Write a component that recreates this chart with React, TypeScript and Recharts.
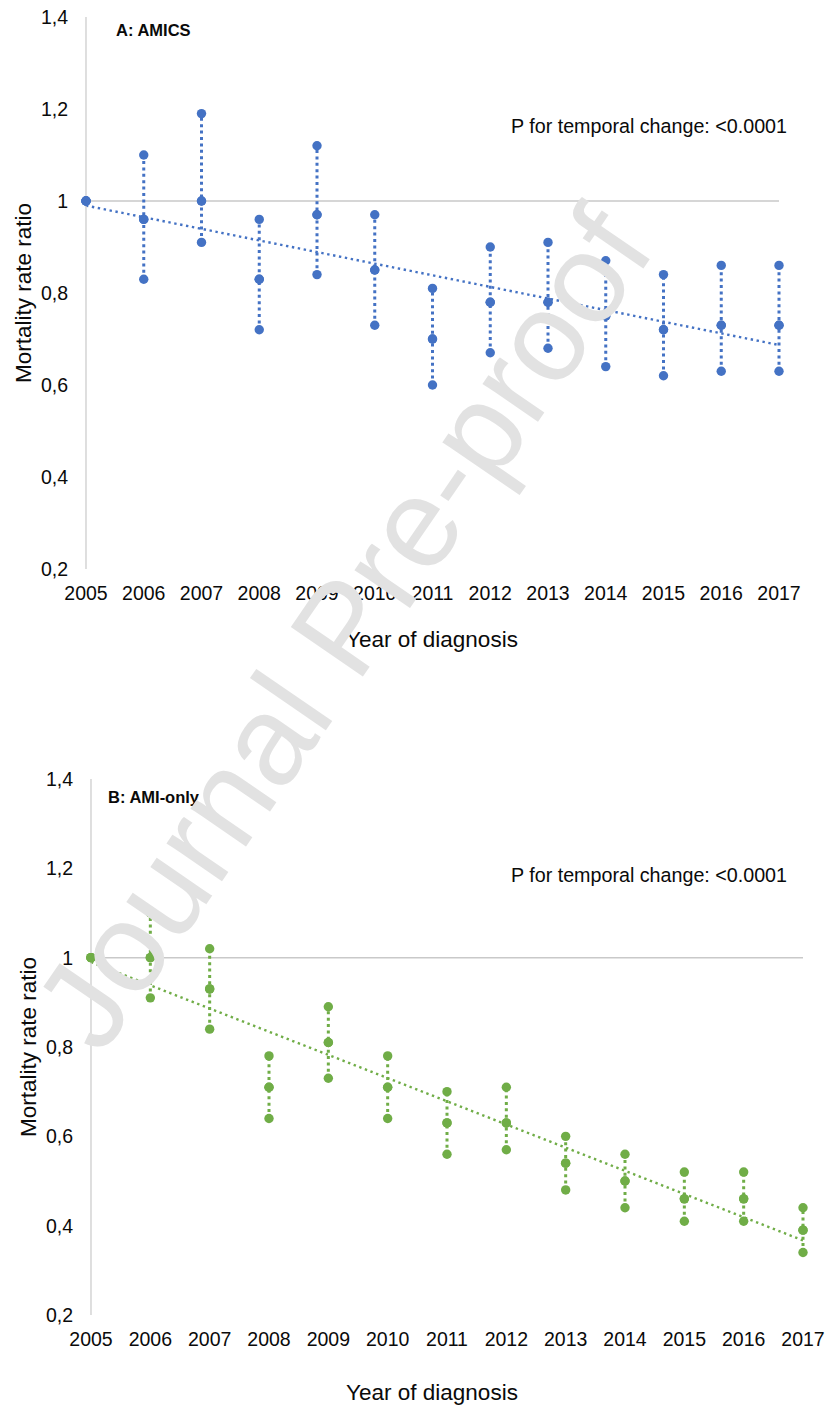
import React from 'react';
import {
  ComposedChart,
  Scatter,
  Line,
  XAxis,
  YAxis,
  ReferenceLine,
  ErrorBar,
} from 'recharts';

// ---------- data ----------
const years = [2005, 2006, 2007, 2008, 2009, 2010, 2011, 2012, 2013, 2014, 2015, 2016, 2017];

const amicsRR = [1.0, 0.96, 1.0, 0.83, 0.97, 0.85, 0.7, 0.78, 0.78, 0.75, 0.72, 0.73, 0.73];
const amicsLow = [1.0, 0.83, 0.91, 0.72, 0.84, 0.73, 0.6, 0.67, 0.68, 0.64, 0.62, 0.63, 0.63];
const amicsHigh = [1.0, 1.1, 1.19, 0.96, 1.12, 0.97, 0.81, 0.9, 0.91, 0.87, 0.84, 0.86, 0.86];
const amicsTrend = [0.99, 0.687]; // trend line value at first and last year

const amiRR = [1.0, 1.0, 0.93, 0.71, 0.81, 0.71, 0.63, 0.63, 0.54, 0.5, 0.46, 0.46, 0.39];
const amiLow = [1.0, 0.91, 0.84, 0.64, 0.73, 0.64, 0.56, 0.57, 0.48, 0.44, 0.41, 0.41, 0.34];
const amiHigh = [1.0, 1.1, 1.02, 0.78, 0.89, 0.78, 0.7, 0.71, 0.6, 0.56, 0.52, 0.52, 0.44];
const amiTrend = [0.99, 0.367];

const yTicks = [0.2, 0.4, 0.6, 0.8, 1, 1.2, 1.4];

const panelATitle = 'A: AMICS';
const panelBTitle = 'B: AMI-only';
const pText = 'P for temporal change: <0.0001';
const xTitle = 'Year of diagnosis';
const yTitle = 'Mortality rate ratio';
const watermark = 'Journal Pre-proof';

// ---------- styles ----------
const FONT = '"Liberation Sans", Arial, Helvetica, sans-serif';
const BLUE = '#4472C4';
const GREEN = '#70AD47';
const GRAY = '#c9c9c9';
const TEXT = '#0a0a0a';

const buildRows = (rr: number[], low: number[], high: number[], trend: number[]) =>
  years.map((year, i) => ({
    year,
    mid: rr[i],
    low: low[i],
    high: high[i],
    err: [rr[i] - low[i], high[i] - rr[i]],
    trend: i === 0 ? trend[0] : i === years.length - 1 ? trend[1] : null,
  }));

const fmtY = (v: number) => (v === 1 ? '1' : v.toFixed(1).replace('.', ','));

type PanelProps = {
  rows: any[];
  color: string;
  width: number;
  height: number;
  margin: { top: number; right: number; bottom: number; left: number };
  yAxisWidth: number;
  xTitleX: number;
  xTitleDy: number;
  yTitleX: number;
};

const dotShape = (color: string) => (p: any) =>
  p.cx == null || p.cy == null ? <g /> : <circle cx={p.cx} cy={p.cy} r={4.7} fill={color} />;

function Panel({ rows, color, width, height, margin, yAxisWidth, xTitleX, xTitleDy, yTitleX }: PanelProps) {
  return (
    <ComposedChart width={width} height={height} data={rows} margin={margin}>
      <XAxis
        dataKey="year"
        type="number"
        domain={[2005, 2017]}
        ticks={years}
        interval={0}
        allowDecimals={false}
        axisLine={false}
        tickLine={false}
        tickSize={0}
        tickMargin={17}
        height={30}
        tick={{ fill: TEXT, fontSize: 19.5, fontFamily: FONT }}
        label={{
          value: xTitle,
          content: (props: any) => {
            const vb = props.viewBox || { y: 0 };
            return (
              <text
                x={xTitleX}
                y={vb.y + xTitleDy}
                textAnchor="middle"
                fontSize={22.5}
                fontFamily={FONT}
                fill={TEXT}
              >
                {xTitle}
              </text>
            );
          },
        }}
      />
      <YAxis
        type="number"
        domain={[0.2, 1.4]}
        ticks={yTicks}
        interval={0}
        width={yAxisWidth}
        axisLine={{ stroke: GRAY, strokeWidth: 1.2 }}
        tickLine={false}
        tickSize={0}
        tickMargin={18}
        tickFormatter={fmtY}
        tick={{ fill: TEXT, fontSize: 19.5, fontFamily: FONT }}
        label={{
          value: yTitle,
          content: (props: any) => {
            const vb = props.viewBox || { y: 0, height: 0 };
            const cy = vb.y + vb.height / 2;
            return (
              <text
                x={yTitleX}
                y={cy}
                transform={`rotate(-90 ${yTitleX} ${cy})`}
                textAnchor="middle"
                fontSize={22.5}
                fontFamily={FONT}
                fill={TEXT}
              >
                {yTitle}
              </text>
            );
          },
        }}
      />
      <ReferenceLine y={1} stroke={GRAY} strokeWidth={1.5} ifOverflow="extendDomain" />
      <Line
        dataKey="trend"
        type="linear"
        stroke={color}
        strokeWidth={2.4}
        strokeDasharray="2.4 3.6"
        dot={false}
        activeDot={false}
        connectNulls
        isAnimationActive={false}
        legendType="none"
      />
      <Scatter dataKey="mid" shape={dotShape(color)} isAnimationActive={false}>
        <ErrorBar
          dataKey="err"
          direction="y"
          width={0}
          stroke={color}
          strokeWidth={3}
          strokeDasharray="3 3.4"
          isAnimationActive={false}
        />
      </Scatter>
      <Scatter dataKey="low" shape={dotShape(color)} isAnimationActive={false} />
      <Scatter dataKey="high" shape={dotShape(color)} isAnimationActive={false} />
      <Scatter dataKey="mid" shape={dotShape(color)} isAnimationActive={false} />
    </ComposedChart>
  );
}

export default function App() {
  const rowsA = buildRows(amicsRR, amicsLow, amicsHigh, amicsTrend);
  const rowsB = buildRows(amiRR, amiLow, amiHigh, amiTrend);
  return (
    <div
      style={{
        position: 'absolute',
        left: 0,
        top: 0,
        width: 827,
        height: 1410,
        background: '#fff',
        overflow: 'hidden',
        fontFamily: FONT,
      }}
    >
      <div style={{ position: 'absolute', left: 0, top: 0 }}>
        <Panel
          rows={rowsA}
          color={BLUE}
          width={827}
          height={700}
          margin={{ top: 17, right: 48, bottom: 101, left: 0 }}
          yAxisWidth={86}
          xTitleX={432}
          xTitleDy={78}
          yTitleX={31}
        />
      </div>
      <div style={{ position: 'absolute', left: 0, top: 762 }}>
        <Panel
          rows={rowsB}
          color={GREEN}
          width={827}
          height={648}
          margin={{ top: 17, right: 24, bottom: 65, left: 0 }}
          yAxisWidth={91}
          xTitleX={432}
          xTitleDy={85}
          yTitleX={36}
        />
      </div>
      <svg
        width={827}
        height={1410}
        style={{ position: 'absolute', left: 0, top: 0, pointerEvents: 'none' }}
      >
        <text x={116} y={36} fontSize={16.5} fontWeight="bold" fontFamily={FONT} fill={TEXT}>
          {panelATitle}
        </text>
        <text x={787} y={132.5} textAnchor="end" fontSize={19.7} fontFamily={FONT} fill={TEXT}>
          {pText}
        </text>
        <text x={108} y={803} fontSize={16.5} fontWeight="bold" fontFamily={FONT} fill={TEXT}>
          {panelBTitle}
        </text>
        <text x={787} y={881.5} textAnchor="end" fontSize={19.7} fontFamily={FONT} fill={TEXT}>
          {pText}
        </text>
        <text
          x={379}
          y={653}
          textAnchor="middle"
          fontSize={127}
          fontFamily={FONT}
          fill="#e2e2e2"
          transform="rotate(-55.5 379 653)"
        >
          {watermark}
        </text>
      </svg>
    </div>
  );
}
